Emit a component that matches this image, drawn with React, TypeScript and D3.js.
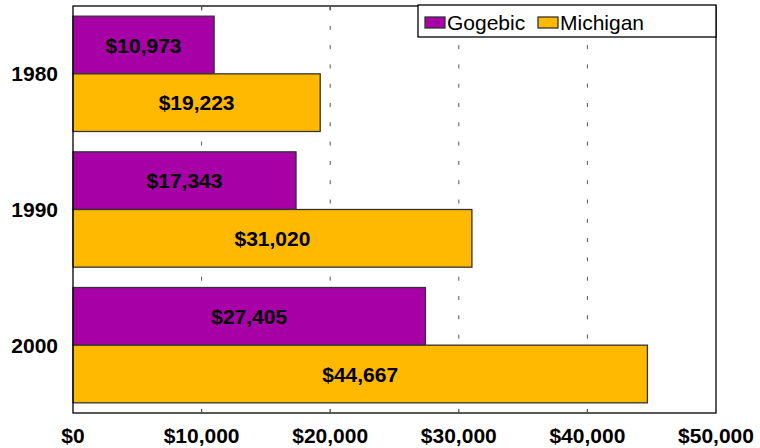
import React from "react";
import * as d3 from "d3";

const years = ["1980", "1990", "2000"];
const seriesNames = ["Gogebic", "Michigan"];
const gogebic = [10973, 17343, 27405];
const michigan = [19223, 31020, 44667];
const xTicks = [0, 10000, 20000, 30000, 40000, 50000];
const colors = ["#A600A6", "#FFB900"];

const W = 760;
const H = 448;
const left = 73;
const right = 716;
const top = 6;
const bottom = 413;

export default function App() {
  const x = d3.scaleLinear().domain([0, 50000]).range([left, right]);
  const y = d3
    .scaleBand<string>()
    .domain(years)
    .range([top, bottom])
    .paddingInner(0.15)
    .paddingOuter(0.075);
  const inner = d3
    .scaleBand<string>()
    .domain(seriesNames)
    .range([0, y.bandwidth()]);
  const fmt = d3.format("$,.0f");
  const values = [gogebic, michigan];
  const font = "'Liberation Sans', Arial, sans-serif";

  return (
    <svg
      width={W}
      height={H}
      style={{ position: "absolute", left: 0, top: 0, background: "#fff" }}
      fontFamily={font}
    >
      <rect x={0} y={0} width={W} height={H} fill="#fff" />
      {xTicks.slice(1, -1).map((t) => (
        <line
          key={"g" + t}
          x1={x(t)}
          x2={x(t)}
          y1={top}
          y2={bottom}
          stroke="#555"
          strokeWidth={1}
          strokeDasharray="4 15.3"
          strokeDashoffset={-0.5}
        />
      ))}
      {years.map((yr, i) =>
        seriesNames.map((s, j) => {
          const v = values[j][i];
          const by = (y(yr) as number) + (inner(s) as number);
          const bh = inner.bandwidth();
          return (
            <g key={yr + s}>
              <rect
                x={x(0)}
                y={by}
                width={x(v) - x(0)}
                height={bh}
                fill={colors[j]}
                stroke="#333"
                strokeWidth={1.3}
              />
              <text
                x={(x(0) + x(v)) / 2}
                y={by + bh / 2}
                dy="0.36em"
                textAnchor="middle"
                fontWeight="bold"
                fontSize={21}
                fill="#000"
              >
                {fmt(v)}
              </text>
            </g>
          );
        })
      )}
      <rect
        x={left}
        y={top}
        width={right - left}
        height={bottom - top}
        fill="none"
        stroke="#000"
        strokeWidth={1.3}
      />
      {xTicks.slice(1, -1).map((t) => (
        <g key={"t" + t}>
          <line x1={x(t)} x2={x(t)} y1={bottom} y2={bottom - 4} stroke="#555" strokeWidth={1.3} />
          <line x1={x(t)} x2={x(t)} y1={top} y2={top + 4} stroke="#555" strokeWidth={1.3} />
        </g>
      ))}
      {xTicks.map((t) => (
        <text
          key={"l" + t}
          x={x(t)}
          y={443}
          textAnchor="middle"
          fontWeight="bold"
          fontSize={21}
          fill="#000"
        >
          {fmt(t)}
        </text>
      ))}
      {years.map((yr) => (
        <text
          key={"c" + yr}
          x={58}
          y={(y(yr) as number) + y.bandwidth() / 2}
          dy="0.36em"
          textAnchor="end"
          fontWeight="bold"
          fontSize={21}
          fill="#000"
        >
          {yr}
        </text>
      ))}
      <g>
        <rect x={418} y={5} width={298} height={32} fill="#fff" stroke="#000" strokeWidth={1.3} />
        {seriesNames.map((s, j) => {
          const lx = j === 0 ? 425 : 538;
          return (
            <g key={"lg" + s}>
              <rect x={lx} y={17} width={20} height={11} fill={colors[j]} stroke="#333" strokeWidth={1.3} />
              <text x={lx + 22} y={29.5} fontSize={21} fill="#000">
                {s}
              </text>
            </g>
          );
        })}
      </g>
    </svg>
  );
}
